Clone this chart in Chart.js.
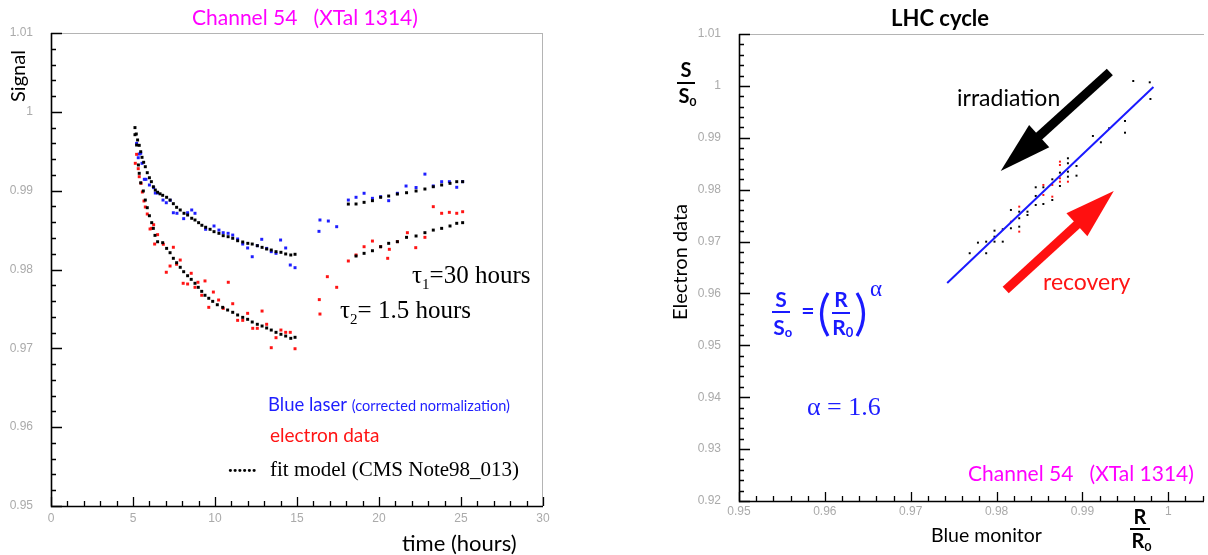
<!DOCTYPE html>
<html><head><meta charset="utf-8">
<script src="https://cdn.jsdelivr.net/npm/chart.js@4.4.0/dist/chart.umd.min.js"></script>
<style>
html,body{margin:0;padding:0;background:#fff;width:1208px;height:555px;overflow:hidden}
canvas{position:absolute;top:0}
#c1{left:0}#c2{left:604px}
</style></head><body>
<canvas id="c1" width="604" height="555"></canvas>
<canvas id="c2" width="604" height="555"></canvas>
<script>
// ---------- Left chart: signal vs time ----------
const blueTime = [5.22,5.32,5.38,5.47,5.55,5.69,5.79,6.00,6.26,6.36,6.50,6.83,7.03,7.27,7.46,7.68,8.09,8.33,8.58,8.78,9.43,9.94,10.24,10.50,10.80,11.08,11.38,11.69,11.99,12.27,12.58,12.85,13.15,13.43,13.72,14.00,14.31,14.59,14.88,
  16.34,16.40,16.91,17.42,18.13,18.60,19.09,19.60,20.10,20.59,21.12,21.65,22.26,22.80,23.31,23.82,24.29,24.74,25.10];
const blueSignal = [0.9960,0.99418,0.99465,0.99474,0.99347,0.99144,0.99144,0.99072,0.99038,0.98970,0.98970,0.98881,0.98847,0.98878,0.98720,0.98713,0.98645,0.98720,0.98755,0.98713,0.98510,0.98552,0.98500,0.98467,0.98459,0.98437,0.98387,0.98323,0.98273,0.98162,0.98302,0.98383,0.98268,0.98226,0.98205,0.98374,0.98273,0.98057,0.98023,
  0.98484,0.98628,0.98615,0.98543,0.98881,0.98916,0.98967,0.98903,0.98924,0.98873,0.98967,0.99059,0.99040,0.99210,0.99060,0.99114,0.99114,0.99043,0.99114];

const electronTime = [5.14,5.22,5.32,5.38,5.49,5.57,5.67,5.75,5.87,6.04,6.14,6.26,6.32,6.50,6.85,7.03,7.26,7.46,7.66,7.88,8.06,8.33,8.55,8.78,8.96,9.19,9.39,9.62,9.90,10.22,10.50,10.81,11.08,11.38,11.69,11.99,12.30,12.58,12.87,13.15,13.43,13.72,14.02,14.31,14.59,14.88,
  16.36,16.40,16.85,17.42,18.13,18.60,19.09,19.60,20.10,20.53,20.63,21.12,21.73,22.24,22.80,23.31,23.82,24.29,24.74,25.10];
const electronSignal = [0.99347,0.99461,0.99279,0.99177,0.99093,0.98983,0.98869,0.98793,0.98704,0.98514,0.98522,0.98568,0.98323,0.98442,0.98320,0.97965,0.98044,0.98282,0.98066,0.98120,0.97825,0.97816,0.97952,0.97774,0.97838,0.97673,0.97855,0.97520,0.97714,0.97613,0.97507,0.97838,0.97566,0.97355,0.97355,0.97444,0.97254,0.97254,0.97473,0.97305,0.97008,0.97135,0.97232,0.97203,0.97203,0.96995,
  0.97618,0.97435,0.97909,0.97774,0.98108,0.98184,0.98289,0.98361,0.98289,0.98142,0.98256,0.98353,0.98467,0.98277,0.98408,0.98797,0.98713,0.98725,0.98713,0.98733];

const fitLaserTime = [5.12,5.12,5.20,5.22,5.28,5.38,5.47,5.55,5.65,5.75,5.87,6.00,6.12,6.24,6.36,6.50,6.65,6.81,7.05,7.26,7.46,7.66,7.88,8.11,8.33,8.58,8.78,9.00,9.20,9.43,9.70,9.94,10.24,10.50,10.80,11.08,11.38,11.69,12.00,12.27,12.58,12.87,13.15,13.43,13.72,14.02,14.31,14.62,14.88,
  18.13,18.60,19.09,19.60,20.10,20.59,21.12,21.68,22.26,22.80,23.31,23.82,24.33,24.74,25.10];
const fitLaserSignal = [0.9980,0.9971,0.99719,0.99579,0.99643,0.99575,0.99494,0.99423,0.99360,0.99304,0.99228,0.99164,0.99114,0.99050,0.99008,0.98980,0.98960,0.98941,0.98916,0.98881,0.98835,0.98789,0.98755,0.98713,0.98691,0.98650,0.98628,0.98594,0.98561,0.98536,0.98510,0.98480,0.98459,0.98429,0.98416,0.98396,0.98365,0.98349,0.98332,0.98323,0.98302,0.98281,0.98260,0.98247,0.98226,0.98218,0.98197,0.98184,0.98193,
  0.98830,0.98831,0.98852,0.98873,0.98916,0.98932,0.98957,0.98974,0.98996,0.99021,0.99050,0.99072,0.99093,0.99114,0.99114];

const fitElectronTime = [5.33,5.38,5.47,5.63,5.75,5.87,6.00,6.14,6.24,6.34,6.50,6.81,7.05,7.26,7.46,7.66,7.88,8.09,8.33,8.55,8.78,8.98,9.19,9.39,9.62,9.86,10.14,10.47,10.77,11.08,11.38,11.69,11.99,12.27,12.58,12.87,13.15,13.43,13.72,14.02,14.31,14.62,14.88,
  18.60,19.09,19.60,20.10,20.59,21.12,21.68,22.26,22.80,23.31,23.82,24.33,24.74,25.10];
const fitElectronSignal = [0.99326,0.99220,0.99100,0.98996,0.98881,0.98784,0.98682,0.98594,0.98522,0.98433,0.98352,0.98340,0.98268,0.98213,0.98142,0.98086,0.98028,0.97972,0.97921,0.97875,0.97825,0.97774,0.97723,0.97673,0.97635,0.97596,0.97553,0.97520,0.97486,0.97457,0.97423,0.97393,0.97368,0.97334,0.97305,0.97283,0.97258,0.97232,0.97203,0.97178,0.97156,0.97127,0.97140,
  0.98171,0.98205,0.98238,0.98289,0.98332,0.98353,0.98408,0.98425,0.98467,0.98500,0.98522,0.98552,0.98586,0.98594];

const timeTicks = [0,5,10,15,20,25,30];
const signalTicks = [0.95,0.96,0.97,0.98,0.99,1,1.01];

// ---------- Right chart: electron data vs blue monitor ----------
const monitorBlack = [0.99592,0.99784,0.99792,0.99496,0.99496,0.99311,0.99122,0.99215,0.98931,0.98831,0.98831,0.98831,0.98831,0.98931,0.98738,0.98738,0.98649,0.98649,0.98545,0.98545,0.98456,0.98456,0.98456,0.98360,0.98360,0.98264,0.98264,0.98264,0.98167,0.98167,0.98072,0.98072,0.97976,0.97976,0.97976,0.97879,0.97879,0.97783,0.97687];
const electronBlack = [1.00094,1.00069,0.99748,0.99324,0.99098,0.99183,0.99035,0.98913,0.98457,0.98605,0.98509,0.98347,0.98250,0.98270,0.98328,0.98071,0.98200,0.97801,0.98046,0.97724,0.98046,0.97879,0.97705,0.97576,0.97512,0.97576,0.97449,0.97287,0.97609,0.97256,0.97237,0.96998,0.97210,0.97094,0.96998,0.96998,0.96775,0.96979,0.96775];
const monitorRed = [0.98738,0.98738,0.98738,0.98738,0.98831,0.98649,0.98649,0.98545,0.98545,0.98264,0.98264,0.98167];
const electronRed = [0.98540,0.98476,0.98220,0.98154,0.98154,0.98091,0.97865,0.98091,0.97898,0.97673,0.97191,0.97383];
const powerLawMonitor = [0.97425,0.99827];
const powerLawElectron = [0.96202,0.99979];
// annotation arrows (data units): [tailX, tailY, tipX, tipY]
const irradiationArrow = [0.99319,1.00268,0.98048,0.98360];
const recoveryArrow = [0.98106,0.96067,0.99365,0.97975];

const monitorTicks = [0.95,0.96,0.97,0.98,0.99,1];
const ratioTicks = [0.92,0.93,0.94,0.95,0.96,0.97,0.98,0.99,1,1.01];

// ---------- helpers ----------
const pts = (xs, ys) => xs.map((x, i) => ({x, y: ys[i]}));
const SANS = 'Lato, "Open Sans", sans-serif';
const SERIF = '"Liberation Serif", "DejaVu Serif", serif';
const fmt = v => String(Number(v.toFixed(3)));

function txt(ctx, s, x, y, font, color, align, base) {
  ctx.font = font; ctx.fillStyle = color; ctx.textAlign = align || 'left'; ctx.textBaseline = base || 'middle';
  ctx.fillText(s, x, y);
  return ctx.measureText(s).width;
}

function framePlugin(cfg) {
  return {
    id: 'frame',
    afterDraw(chart) {
      const {ctx, chartArea: a, scales: {x, y}} = chart;
      ctx.save();
      ctx.lineWidth = 1;
      ctx.strokeStyle = '#b4b4b4';
      ctx.beginPath();
      ctx.moveTo(a.left, a.top + 0.5); ctx.lineTo(a.right, a.top + 0.5);
      if (cfg.rightBorder) { ctx.moveTo(a.right - 0.5, a.top); ctx.lineTo(a.right - 0.5, a.bottom); }
      ctx.stroke();
      ctx.strokeStyle = '#000'; ctx.lineWidth = 1.6;
      ctx.beginPath();
      ctx.moveTo(a.left + 0.5, a.top); ctx.lineTo(a.left + 0.5, a.bottom + 0.5); ctx.lineTo(a.right, a.bottom + 0.5);
      ctx.stroke();
      ctx.lineWidth = 1.3;
      ctx.beginPath();
      const ny = Math.round((y.max - y.min) / cfg.yMinor + 1e-6);
      for (let k = 0; k <= ny; k++) {
        const v = y.min + k * cfg.yMinor;
        const p = Math.round(y.getPixelForValue(v)) + 0.5;
        const len = (k % cfg.yPer === 0) ? 11 : 5;
        ctx.moveTo(a.left, p); ctx.lineTo(a.left + len, p);
      }
      const nx = Math.floor((x.max - x.min) / cfg.xMinor + 1e-6);
      for (let k = 0; k <= nx; k++) {
        const v = x.min + k * cfg.xMinor;
        const p = Math.round(x.getPixelForValue(v)) + 0.5;
        const len = (k % cfg.xPer === 0) ? 9 : 5;
        ctx.moveTo(p, a.bottom); ctx.lineTo(p, a.bottom - len);
      }
      ctx.stroke();
      ctx.restore();
      if (cfg.after) cfg.after(chart, ctx);
    }
  };
}

const tickFont = {family: '"Liberation Sans", sans-serif', size: 12};
const tickColor = '#aaaaaa';

function baseOptions(o) {
  return {
    responsive: false, animation: false, devicePixelRatio: 1, events: [],
    layout: {padding: o.padding},
    plugins: {legend: {display: false}, tooltip: {enabled: false}, title: {display: false}},
    scales: {
      x: {type: 'linear', min: o.xmin, max: o.xmax,
        afterBuildTicks: s => { s.ticks = o.xticks.map(v => ({value: v})); },
        ticks: {color: tickColor, font: tickFont, padding: o.xpad, maxRotation: 0, autoSkip: false, callback: v => fmt(v)},
        grid: {display: false, drawTicks: false}, border: {display: false},
        afterFit: s => { s.height = o.xh; }},
      y: {type: 'linear', min: o.ymin, max: o.ymax,
        afterBuildTicks: s => { s.ticks = o.yticks.map(v => ({value: v})); },
        ticks: {color: tickColor, font: tickFont, padding: o.ypad, autoSkip: false, callback: v => fmt(v)},
        grid: {display: false, drawTicks: false}, border: {display: false},
        afterFit: s => { s.width = o.yw; }}
    }
  };
}

// ---------- left chart ----------
const leftOpts = baseOptions({padding: {top: 33, right: 61, left: 0, bottom: 0}, xmin: 0, xmax: 30, ymin: 0.95, ymax: 1.01,
  xticks: timeTicks, yticks: signalTicks, xpad: 5, ypad: 18, xh: 49, yw: 51});

new Chart(document.getElementById('c1'), {
  type: 'scatter',
  data: {datasets: [
    {label: 'fit model', data: pts(fitLaserTime, fitLaserSignal), backgroundColor: '#000', pointStyle: 'rect', pointRadius: 2.1, borderWidth: 0},
    {label: 'fit model 2', data: pts(fitElectronTime, fitElectronSignal), backgroundColor: '#000', pointStyle: 'rect', pointRadius: 2.1, borderWidth: 0},
    {label: 'electron data', data: pts(electronTime, electronSignal), backgroundColor: '#ff1414', pointStyle: 'rect', pointRadius: 2.1, borderWidth: 0},
    {label: 'Blue laser', data: pts(blueTime, blueSignal), backgroundColor: '#1e1eff', pointStyle: 'rect', pointRadius: 2.1, borderWidth: 0}
  ]},
  options: leftOpts,
  plugins: [framePlugin({rightBorder: true, yMinor: 0.002, yPer: 5, xMinor: 1, xPer: 5, after: (chart, ctx) => {
    ctx.save();
    txt(ctx, 'Channel 54   (XTal 1314)', 192, 18, '21px ' + SANS, '#ff00ff');
    ctx.save(); ctx.translate(19, 76); ctx.rotate(-Math.PI / 2);
    txt(ctx, 'Signal', 0, 0, '20px ' + SANS, '#000', 'center'); ctx.restore();
    // tau labels
    let w = txt(ctx, 'τ', 412, 283, '25px ' + SERIF, '#000', 'left', 'alphabetic');
    let w2 = txt(ctx, '1', 412 + w, 289, '15px ' + SERIF, '#000', 'left', 'alphabetic');
    txt(ctx, '=30 hours', 412 + w + w2, 283, '25px ' + SERIF, '#000', 'left', 'alphabetic');
    w = txt(ctx, 'τ', 340, 318, '25px ' + SERIF, '#000', 'left', 'alphabetic');
    w2 = txt(ctx, '2', 340 + w, 324, '15px ' + SERIF, '#000', 'left', 'alphabetic');
    txt(ctx, '= 1.5 hours', 340 + w + w2, 318, '25px ' + SERIF, '#000', 'left', 'alphabetic');
    // legend
    w = txt(ctx, 'Blue laser ', 268, 405, '18.5px ' + SANS, '#1e1eff');
    txt(ctx, '(corrected normalization)', 268 + w, 406, '14.5px ' + SANS, '#1e1eff');
    txt(ctx, 'electron data', 270, 436, '19px ' + SANS, '#ff1414');
    txt(ctx, '......', 228, 472, 'bold 19px ' + SERIF, '#000', 'left', 'alphabetic');
    txt(ctx, 'fit model (CMS Note98_013)', 270, 476, '21px ' + SERIF, '#000', 'left', 'alphabetic');
    txt(ctx, 'time (hours)', 402, 544, '22px ' + SANS, '#000');
    ctx.restore();
  }})]
});

// ---------- right chart ----------
const OFF = 604;
const rightOpts = baseOptions({padding: {top: 34, right: 0, left: 0, bottom: 0}, xmin: 0.95, xmax: 1.00416, ymin: 0.92, ymax: 1.01,
  xticks: monitorTicks, yticks: ratioTicks, xpad: 3, ypad: 18, xh: 54, yw: 135});

function arrow(ctx, x, y, a, color, headLen, headHalf, shaftW) {
  const x0 = x.getPixelForValue(a[0]), y0 = y.getPixelForValue(a[1]);
  const x1 = x.getPixelForValue(a[2]), y1 = y.getPixelForValue(a[3]);
  const dx = x1 - x0, dy = y1 - y0, L = Math.hypot(dx, dy), ux = dx / L, uy = dy / L;
  const bx = x1 - ux * headLen, by = y1 - uy * headLen;
  ctx.save();
  ctx.strokeStyle = color; ctx.fillStyle = color; ctx.lineWidth = shaftW; ctx.lineCap = 'butt';
  ctx.beginPath(); ctx.moveTo(x0, y0); ctx.lineTo(bx + ux * 2, by + uy * 2); ctx.stroke();
  ctx.beginPath(); ctx.moveTo(x1, y1);
  ctx.lineTo(bx - uy * headHalf, by + ux * headHalf);
  ctx.lineTo(bx + uy * headHalf, by - ux * headHalf);
  ctx.closePath(); ctx.fill();
  ctx.restore();
}

function fraction(ctx, top, bot, sub, cx, yTop, yLine, yBot, half, color, size) {
  txt(ctx, top, cx, yTop, 'bold ' + size + 'px ' + SANS, color, 'center');
  const w = txt(ctx, bot, cx - 2, yBot, 'bold ' + size + 'px ' + SANS, color, 'center');
  txt(ctx, sub, cx - 2 + w / 2, yBot + 5, 'bold ' + Math.round(size * 0.62) + 'px ' + SANS, color, 'left');
  ctx.save(); ctx.strokeStyle = color; ctx.lineWidth = 2;
  ctx.beginPath(); ctx.moveTo(cx - half, yLine); ctx.lineTo(cx + half, yLine); ctx.stroke(); ctx.restore();
}

new Chart(document.getElementById('c2'), {
  type: 'scatter',
  data: {datasets: [
    {type: 'line', label: 'power law', data: pts(powerLawMonitor, powerLawElectron), borderColor: '#1a1aff', borderWidth: 2, pointRadius: 0, fill: false},
    {label: 'irradiation', data: pts(monitorBlack, electronBlack), backgroundColor: '#000', pointStyle: 'rect', pointRadius: 1.4, borderWidth: 0},
    {label: 'recovery', data: pts(monitorRed, electronRed), backgroundColor: '#ff1414', pointStyle: 'rect', pointRadius: 1.4, borderWidth: 0}
  ]},
  options: rightOpts,
  plugins: [framePlugin({rightBorder: false, yMinor: 0.002, yPer: 5, xMinor: 0.002, xPer: 5, after: (chart, ctx) => {
    const {x, y} = chart.scales;
    arrow(ctx, x, y, irradiationArrow, '#000', 52, 15, 9);
    arrow(ctx, x, y, recoveryArrow, '#ff1010', 50, 15.5, 9);
    ctx.save();
    ctx.translate(-OFF, 0);
    txt(ctx, 'LHC cycle', 940, 19, 'bold 22px ' + SANS, '#000', 'center');
    txt(ctx, 'irradiation', 957, 99, '23px ' + SANS, '#000');
    txt(ctx, 'recovery', 1043, 283, '23px ' + SANS, '#ff1414');
    // y title
    fraction(ctx, 'S', 'S', '0', 686, 71, 83, 97, 9, '#000', 20);
    ctx.save(); ctx.translate(681, 262); ctx.rotate(-Math.PI / 2);
    txt(ctx, 'Electron data', 0, 0, '20px ' + SANS, '#000', 'center'); ctx.restore();
    // x title
    txt(ctx, 'Blue monitor', 931, 536, '19.5px ' + SANS, '#000');
    fraction(ctx, 'R', 'R', '0', 1140, 518, 529, 542, 10, '#000', 20);
    // formula
    const B = '#1a1aff';
    fraction(ctx, 'S', 'S', 'o', 781, 300, 312, 328, 9, B, 21);
    txt(ctx, '=', 808, 312, 'bold 23px ' + SANS, B, 'center');
    ctx.save(); ctx.strokeStyle = B; ctx.lineWidth = 3.2;
    ctx.beginPath(); ctx.moveTo(828, 293); ctx.quadraticCurveTo(815, 314, 828, 336); ctx.stroke();
    ctx.beginPath(); ctx.moveTo(857, 293); ctx.quadraticCurveTo(870, 314, 857, 336); ctx.stroke();
    ctx.restore();
    fraction(ctx, 'R', 'R', '0', 841, 300, 313, 328, 9, B, 21);
    txt(ctx, 'α', 876, 290, '23px ' + SERIF, B, 'center');
    txt(ctx, 'α = 1.6', 807, 408, '26px ' + SERIF, '#1e1eff');
    txt(ctx, 'Channel 54   (XTal 1314)', 968, 474, '21px ' + SANS, '#ff00ff');
    ctx.restore();
  }})]
});
</script>
</body></html>
